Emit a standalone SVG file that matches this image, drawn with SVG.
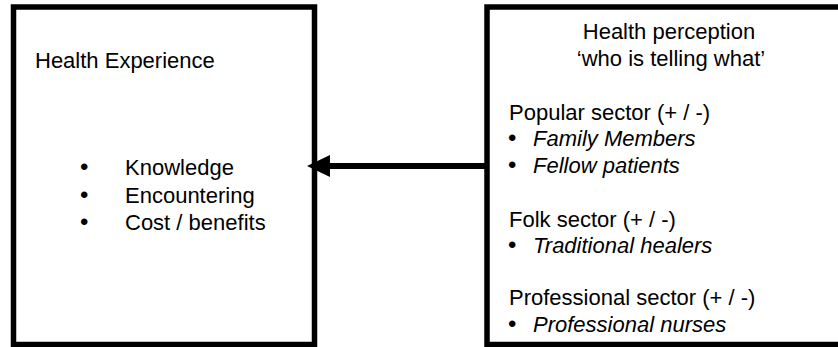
<svg xmlns="http://www.w3.org/2000/svg" width="838" height="347" viewBox="0 0 838 347">
<style>
.box{fill:#fff;stroke:#000;stroke-width:5.5}
text{font-family:"Liberation Sans",Arial,sans-serif;font-size:22px;fill:#000}
.it{font-style:italic}
.c{text-anchor:middle}
.b{font-size:24px}
</style>
<rect width="838" height="347" fill="#fff"/>
<g id="health-experience">
<rect class="box" x="13.5" y="7" width="301" height="337.5"/>
<text x="35" y="68">Health Experience</text>
<text class="b" x="80" y="175">•</text><text x="125" y="175">Knowledge</text>
<text class="b" x="80" y="202.5">•</text><text x="125" y="202.5">Encountering</text>
<text class="b" x="80" y="230">•</text><text x="125" y="230">Cost / benefits</text>
</g>
<g id="health-perception">
<rect class="box" x="487" y="7" width="370" height="337.5"/>
<text class="c" x="669" y="39">Health perception</text>
<text class="c" x="671" y="66">‘who is telling what’</text>
<text x="509" y="120">Popular sector (+ / -)</text>
<text class="b" x="508" y="146">•</text><text class="it" x="533" y="146">Family Members</text>
<text class="b" x="508" y="173">•</text><text class="it" x="533" y="173">Fellow patients</text>
<text x="509" y="227">Folk sector (+ / -)</text>
<text class="b" x="508" y="253">•</text><text class="it" x="533" y="253">Traditional healers</text>
<text x="509" y="305">Professional sector (+ / -)</text>
<text class="b" x="508" y="332">•</text><text class="it" x="533" y="332">Professional nurses</text>
</g>
<g id="connectors">
<line x1="487" y1="166" x2="330" y2="166" stroke="#000" stroke-width="6"/>
<path d="M330,155 L307,166 L330,177 Z" fill="#000"/>
</g>
</svg>
